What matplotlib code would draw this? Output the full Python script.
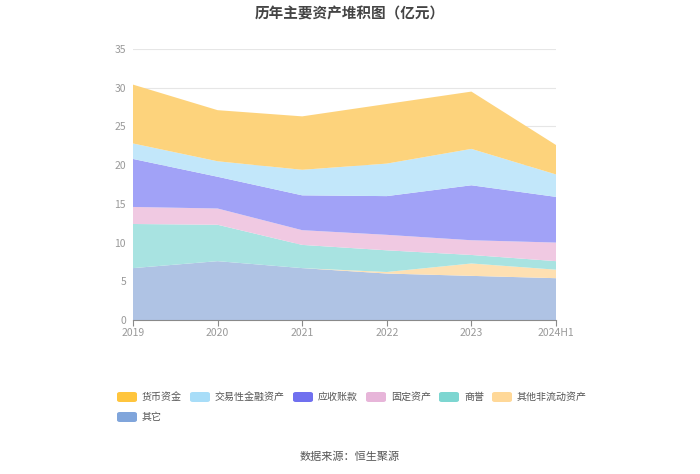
import matplotlib
matplotlib.use("Agg")
import matplotlib.pyplot as plt
from matplotlib.patches import FancyBboxPatch
import numpy as np

plt.rcParams['font.family'] = ['Noto Sans CJK SC', 'DejaVu Sans']

categories = ["2019", "2020", "2021", "2022", "2023", "2024H1"]

# stacked from bottom to top
other = [6.7, 7.6, 6.7, 6.0, 5.7, 5.4]
other_noncurrent = [0.0, 0.0, 0.0, 0.2, 1.6, 1.1]
goodwill = [5.7, 4.7, 3.0, 2.8, 1.1, 1.1]
fixed_assets = [2.2, 2.1, 1.9, 2.0, 1.9, 2.4]
receivables = [6.2, 4.1, 4.5, 5.0, 7.1, 5.9]
trading_assets = [2.0, 2.0, 3.3, 4.2, 4.7, 2.9]
cash = [7.6, 6.6, 6.9, 7.7, 7.4, 3.8]

series_labels = ["其它", "其他非流动资产", "商誉", "固定资产", "应收账款", "交易性金融资产", "货币资金"]
legend_order = ["货币资金", "交易性金融资产", "应收账款", "固定资产", "商誉", "其他非流动资产", "其它"]

fill_colors = {
    "货币资金": "#FDD37C",
    "交易性金融资产": "#C2E7FA",
    "应收账款": "#A1A2F7",
    "固定资产": "#F0C9E2",
    "商誉": "#A8E3E1",
    "其他非流动资产": "#FEE0B2",
    "其它": "#AFC3E4",
}
legend_colors = {
    "货币资金": "#FFC53D",
    "交易性金融资产": "#A8DDF8",
    "应收账款": "#7070EF",
    "固定资产": "#E7B5D9",
    "商誉": "#7DD6D1",
    "其他非流动资产": "#FFD898",
    "其它": "#80A5DB",
}

W, H = 700, 474
fig = plt.figure(figsize=(W / 100, H / 100), dpi=100)
ax = fig.add_axes([133 / W, 1 - 320 / H, (556 - 133) / W, (320 - 49) / H])

x = np.arange(len(categories))
data = [other, other_noncurrent, goodwill, fixed_assets, receivables, trading_assets, cash]
ax.stackplot(x, *data, colors=[fill_colors[l] for l in series_labels], linewidth=0)

ax.set_xlim(0, len(categories) - 1)
ax.set_ylim(0, 35)
ax.set_yticks(np.arange(0, 36, 5))
ax.set_xticks(x)
ax.set_xticklabels(categories)
ax.grid(axis='y', color='#E6E6E6', linewidth=0.8)
ax.set_axisbelow(True)
for s in ['top', 'right', 'left']:
    ax.spines[s].set_visible(False)
ax.spines['bottom'].set_color('#8A8A8A')
ax.spines['bottom'].set_linewidth(0.8)
ax.tick_params(axis='y', length=0, labelsize=7.5, labelcolor='#999999', pad=5)
ax.tick_params(axis='x', length=4, color='#8A8A8A', labelsize=7.5, labelcolor='#999999', pad=2)

fig.text(350 / W, 1 - 13 / H, "历年主要资产堆积图（亿元）", ha='center', va='center',
         fontsize=10.5, fontweight='bold', color='#444444')

# legend
renderer = fig.canvas.get_renderer()
lx, ly = 117, 397
row_h = 20
for i, lab in enumerate(legend_order):
    if i == 6:
        lx, ly = 117, ly + row_h
    patch = FancyBboxPatch((lx / W, 1 - (ly + 5) / H), 20 / W, 10 / H,
                           boxstyle="round,pad=0,rounding_size=0.004",
                           transform=fig.transFigure, facecolor=legend_colors[lab],
                           edgecolor='none')
    fig.patches.append(patch)
    t = fig.text((lx + 25) / W, 1 - ly / H, lab, ha='left', va='center', fontsize=7.2, color='#555555')
    bb = t.get_window_extent(renderer=renderer)
    lx = lx + 25 + bb.width + 8

fig.text(350 / W, 1 - 457 / H, "数据来源：恒生聚源", ha='center', va='center', fontsize=8, color='#555555')

fig.savefig("out.png", dpi=100)
